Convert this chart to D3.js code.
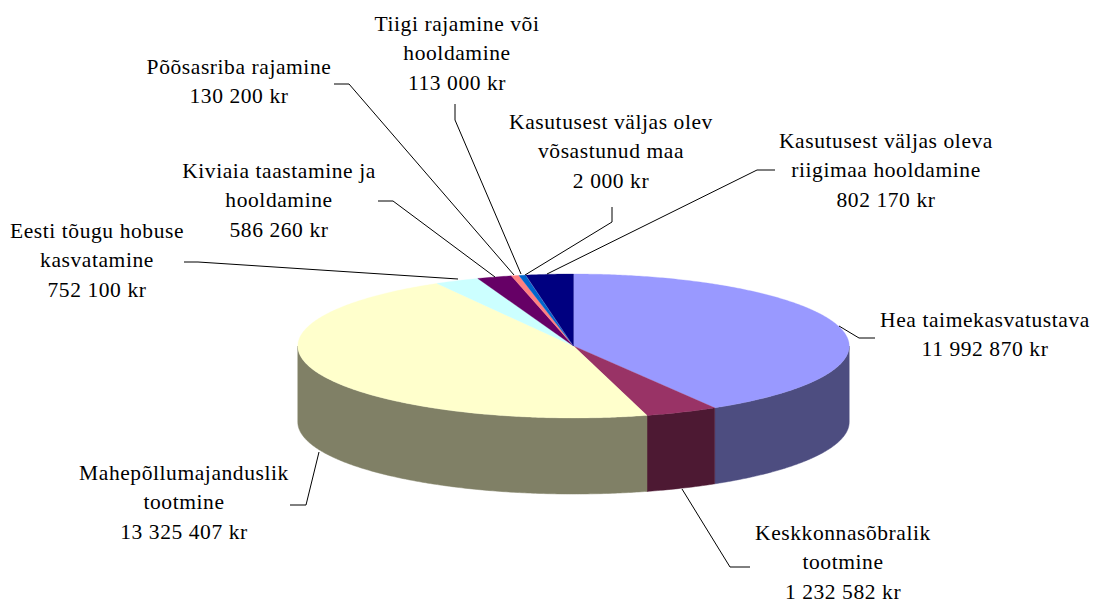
<!DOCTYPE html>
<html><head><meta charset="utf-8">
<script src="https://cdn.jsdelivr.net/npm/d3@7"></script>
<style>html,body{margin:0;background:#fff}svg{display:block}text{font-family:"Liberation Serif",serif;font-size:21.5px;letter-spacing:0.58px;fill:#000;text-anchor:middle}</style>
</head><body><div id="c"></div>
<script>
const categories = ["Hea taimekasvatustava","Keskkonnasõbralik tootmine","Mahepõllumajanduslik tootmine","Eesti tõugu hobuse kasvatamine","Kiviaia taastamine ja hooldamine","Põõsasriba rajamine","Tiigi rajamine või hooldamine","Kasutusest väljas olev võsastunud maa","Kasutusest väljas oleva riigimaa hooldamine"];
const values = [11992870,1232582,13325407,752100,586260,130200,113000,2000,802170];
const valueLabels = ["11 992 870 kr","1 232 582 kr","13 325 407 kr","752 100 kr","586 260 kr","130 200 kr","113 000 kr","2 000 kr","802 170 kr"];
const topColors = ["#9999FF","#993366","#FFFFCC","#CCFFFF","#660066","#FF8080","#0066CC","#CCCCFF","#000080"];
const sideColors = ["#4D4D80","#4D1933","#808066","#668080","#330033","#804040","#003366","#666680","#000040"];
const labelLines = [
 ["Hea taimekasvatustava"],["Keskkonnasõbralik","tootmine"],["Mahepõllumajanduslik","tootmine"],
 ["Eesti tõugu hobuse","kasvatamine"],["Kiviaia taastamine ja","hooldamine"],["Põõsasriba rajamine"],
 ["Tiigi rajamine või","hooldamine"],["Kasutusest väljas olev","võsastunud maa"],["Kasutusest väljas oleva","riigimaa hooldamine"]];
const labelX = [985,843,184,97,279,239,457,611,886];
const labelY = [327,540,480,238,178,74,31,129,148];
const leaders = [
 [[839,326],[859,338],[875,338]],
 [[682,489],[730,567],[750,567]],
 [[319,452],[306,505],[290,505]],
 [[184,262],[198,262],[458,279]],
 [[378,201],[393,201],[495,277]],
 [[334,84],[349,84],[514,275]],
 [[455,104],[455,120],[521,274]],
 [[612,207],[612,222],[525,275]],
 [[775,170],[757,170],[547,274]]];

const cx=573.5, cy=346, rx=275.7, ry=72, depth=76;
const svg=d3.select("#c").append("svg").attr("width",1093).attr("height",604);
const arcs=d3.pie().sort(null).value(d=>d)(values);
const X=a=>cx+rx*Math.sin(a), Y=a=>cy-ry*Math.cos(a);
const angles=(a0,a1)=>{const n=Math.max(2,Math.ceil((a1-a0)/0.01));return d3.range(n+1).map(i=>a0+(a1-a0)*i/n);};
const line=d3.line();

arcs.forEach((d,i)=>{
  const a0=Math.max(d.startAngle,Math.PI/2), a1=Math.min(d.endAngle,Math.PI*1.5);
  if(a1<=a0) return;
  const as=angles(a0,a1);
  const pts=as.map(a=>[X(a),Y(a)]).concat(as.slice().reverse().map(a=>[X(a),Y(a)+depth]));
  svg.append("path").attr("d",line(pts)+"Z").attr("fill",sideColors[i]).attr("stroke",sideColors[i]).attr("stroke-width",0.5);
});
arcs.forEach((d,i)=>{
  const pts=[[cx,cy]].concat(angles(d.startAngle,d.endAngle).map(a=>[X(a),Y(a)]));
  svg.append("path").attr("d",line(pts)+"Z").attr("fill",topColors[i]).attr("stroke",topColors[i]).attr("stroke-width",0.3);
});
leaders.forEach(l=>svg.append("path").attr("d",line(l)).attr("fill","none").attr("stroke","#000").attr("stroke-width",1));
categories.forEach((c,i)=>{
  const t=svg.append("text").attr("data-cat",c);
  labelLines[i].concat([valueLabels[i]]).forEach((s,j)=>{
    t.append("tspan").attr("x",labelX[i]).attr("y",labelY[i]+j*29.4).text(s);
  });
});
</script></body></html>
